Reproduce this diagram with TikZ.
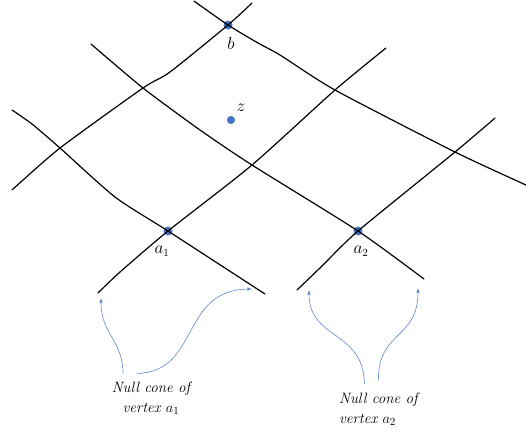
\documentclass[tikz,border=0pt]{standalone}
\usepackage{tikz}
\usetikzlibrary{arrows}
\definecolor{dotblue}{HTML}{4472C4}
\begin{document}
\begin{tikzpicture}
    [x=1pt,y=-1pt,
      grid/.style={draw=black,line width=1.2pt,line cap=round,line join=round},
      dot/.style={circle,fill=dotblue,inner sep=0pt,minimum size=9pt},
      lbl/.style={inner sep=0pt,font=\fontsize{16}{18}\selectfont},
      note/.style={inner sep=0pt,font=\fontsize{15}{20}\selectfont\itshape},
      cone/.style={draw=dotblue!85,line width=0.6pt,-latex}
    ]
    \useasboundingbox (0,0) rectangle (526,432);

    % vertices
    \coordinate (b) at (228,25);
    \coordinate (z) at (231,120);
    \coordinate (a1) at (168,231);
    \coordinate (a2) at (358,231);
    \node [dot] (bDot) at (b) {};
    \node [dot,minimum size=8pt] (zDot) at (z) {};
    \node [dot] (aOneDot) at (a1) {};
    \node [dot] (aTwoDot) at (a2) {};

    % null lines
    \draw [grid] plot [smooth,tension=0.4] coordinates
      {(12,190) (60,148) (143,88) (170,72) (b) (252,3)};
    \draw [grid] plot [smooth,tension=0.4] coordinates
      {(98,293) (120,272) (a1) (252,165) (335,90) (386,48)};
    \draw [grid] plot [smooth,tension=0.4] coordinates
      {(297,290) (322,266) (a2) (455,152) (495,118)};
    \draw [grid] plot [smooth,tension=0.4] coordinates
      {(194,1) (b) (258,43) (280,55) (335,90) (455,152) (526,185)};
    \draw [grid] plot [smooth,tension=0.4] coordinates
      {(91,44) (143,88) (200,130) (252,165) (a2) (424,279)};
    \draw [grid] plot [smooth,tension=0.4] coordinates
      {(12,110) (32,124) (60,148) (115,197) (a1) (265,294)};

    \node [lbl] (bLabel) at (231,43) {$b$};
    \node [lbl] (zLabel) at (241,108) {$z$};
    \node [lbl] (aOneLabel) at (162,251) {$a_1$};
    \node [lbl] (aTwoLabel) at (361,251) {$a_2$};

    % cone ends
    \coordinate (aOneLeft) at (101,298);
    \coordinate (aOneRight) at (252,289);
    \coordinate (aTwoLeft) at (309,290);
    \coordinate (aTwoRight) at (418,288);

    \node [note,align=center] (noteOne) at (151,398) {Null cone of\\vertex $a_1$};
    \node [note,align=left,anchor=west] (noteTwo) at (339,409) {Null cone of\\vertex $a_2$};

    \draw [cone] ([xshift=-28pt,yshift=8pt]noteOne.north)
      .. controls (123,340) and (101,335) .. (aOneLeft);
    \draw [cone] ([xshift=-14pt,yshift=8pt]noteOne.north)
      .. controls (200,372) and (180,290) .. (aOneRight);
    \draw [cone] ([xshift=-14pt,yshift=8pt]noteTwo.north)
      .. controls (364,330) and (309,340) .. (aTwoLeft);
    \draw [cone] ([xshift=0pt,yshift=12pt]noteTwo.north)
      .. controls (378,330) and (418,340) .. (aTwoRight);
\end{tikzpicture}
\end{document}
